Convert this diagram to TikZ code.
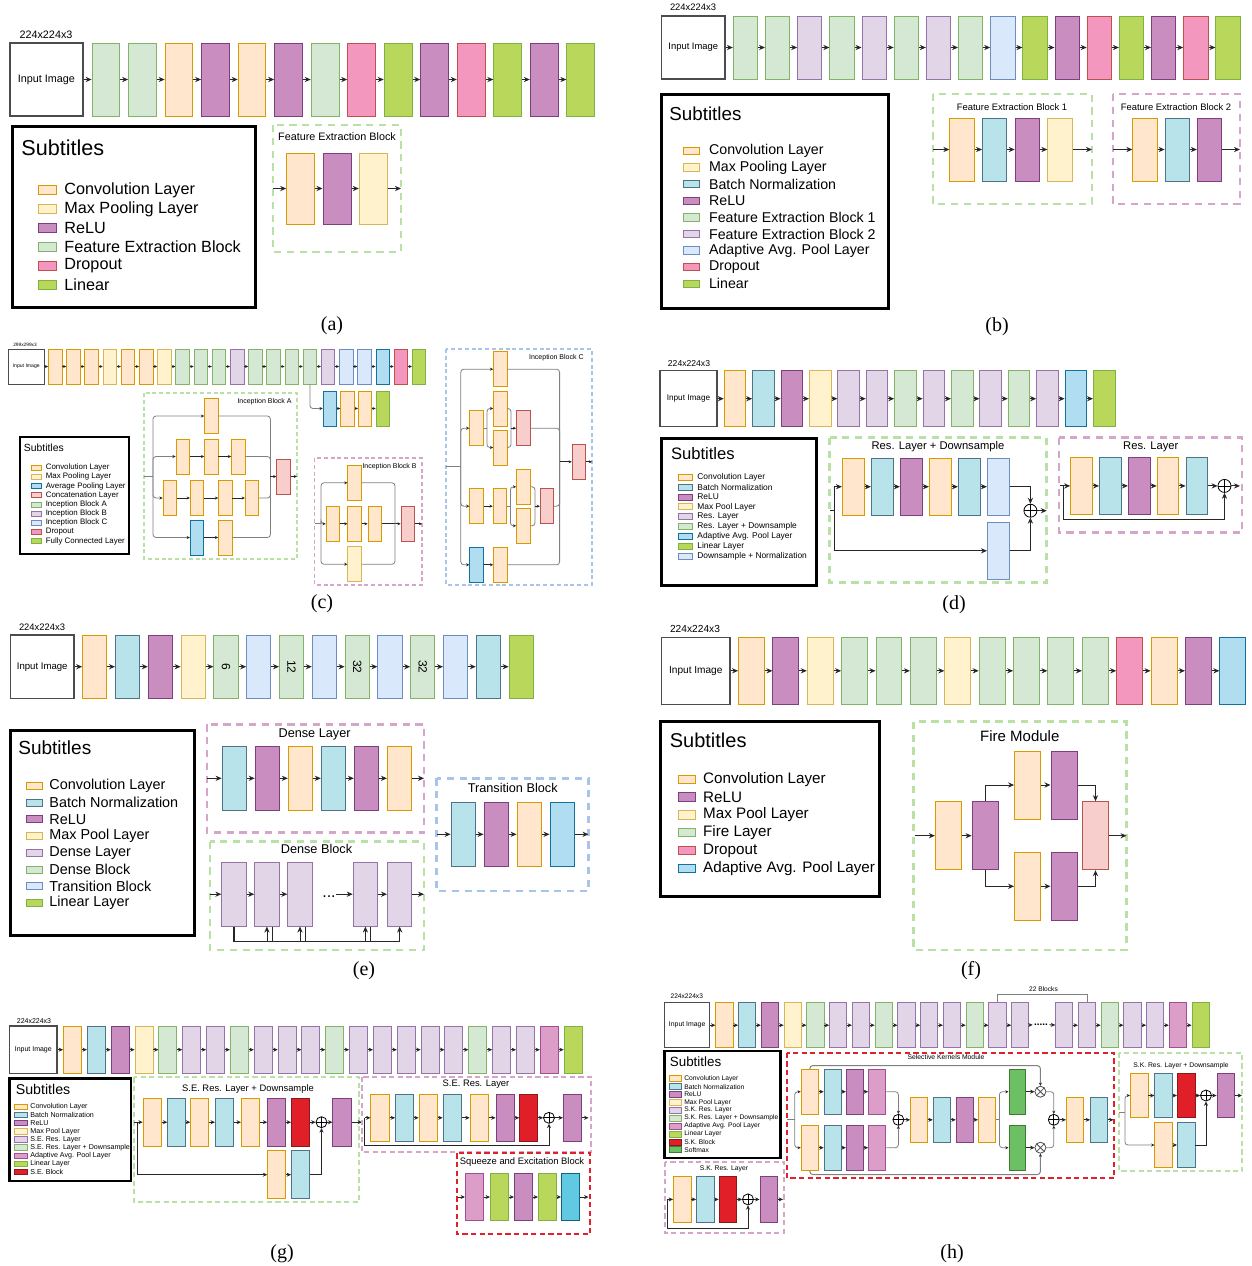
\documentclass[tikz,border=0pt]{standalone}
\usepackage{fontspec}
\setmainfont{Liberation Serif}
\newfontfamily\hel{Liberation Sans}
\usetikzlibrary{arrows.meta}
\newcommand{\fsz}[1]{\fontsize{#1}{#1}\selectfont}
% layer colours
\definecolor{cvF}{HTML}{FFE6CC}\definecolor{cvD}{HTML}{D79B00}
\definecolor{mpF}{HTML}{FFF2CC}\definecolor{mpD}{HTML}{D6B656}
\definecolor{rlF}{HTML}{C98DBF}\definecolor{rlD}{HTML}{7E3F7E}
\definecolor{feF}{HTML}{D5E8D4}\definecolor{feD}{HTML}{82B366}
\definecolor{fbF}{HTML}{E1D5E7}\definecolor{fbD}{HTML}{9673A6}
\definecolor{dpF}{HTML}{F497BE}\definecolor{dpD}{HTML}{C0504D}
\definecolor{liF}{HTML}{B9D75B}\definecolor{liD}{HTML}{7CB342}
\definecolor{bnF}{HTML}{B9E3EB}\definecolor{bnD}{HTML}{4E7487}
\definecolor{abF}{HTML}{DAE8FC}\definecolor{abD}{HTML}{6C8EBF}
\definecolor{avF}{HTML}{B1DDF0}\definecolor{avD}{HTML}{10739E}
\definecolor{caF}{HTML}{F8CECC}\definecolor{caD}{HTML}{B85450}
\definecolor{seF}{HTML}{E11F28}\definecolor{seD}{HTML}{8A1A1A}
\definecolor{apF}{HTML}{DC9EC8}\definecolor{apD}{HTML}{A05090}
\definecolor{smF}{HTML}{6CBF63}\definecolor{smD}{HTML}{3C7A36}
\definecolor{cyF}{HTML}{62C9E2}\definecolor{cyD}{HTML}{10627E}
\definecolor{dG}{HTML}{B9E0A5}\definecolor{dP}{HTML}{D5A6C9}
\definecolor{dB}{HTML}{A9C4EB}\definecolor{dR}{HTML}{E0202A}
\tikzstyle{blk}=[rectangle,draw,inner sep=0pt,line width=0.5pt]
\tikzstyle{cv}=[blk,fill=cvF,draw=cvD]
\tikzstyle{mp}=[blk,fill=mpF,draw=mpD]
\tikzstyle{rl}=[blk,fill=rlF,draw=rlD]
\tikzstyle{fe}=[blk,fill=feF,draw=feD]
\tikzstyle{fb}=[blk,fill=fbF,draw=fbD]
\tikzstyle{dp}=[blk,fill=dpF,draw=dpD]
\tikzstyle{li}=[blk,fill=liF,draw=liD]
\tikzstyle{bn}=[blk,fill=bnF,draw=bnD]
\tikzstyle{ab}=[blk,fill=abF,draw=abD]
\tikzstyle{av}=[blk,fill=avF,draw=avD]
\tikzstyle{ca}=[blk,fill=caF,draw=caD]
\tikzstyle{se}=[blk,fill=seF,draw=seD]
\tikzstyle{ap}=[blk,fill=apF,draw=apD]
\tikzstyle{sm}=[blk,fill=smF,draw=smD]
\tikzstyle{cy}=[blk,fill=cyF,draw=cyD]
\tikzstyle{inp}=[rectangle,draw=black!70,line width=0.6pt,fill=white,inner sep=0pt]
\tikzstyle{lbl}=[inner sep=0pt]
\tikzstyle{lgd}=[draw=black,line width=1.5pt]
\tikzstyle{gbox}=[draw=dG,line width=1.4pt,dash pattern=on 3.6pt off 2.8pt]
\tikzstyle{pbox}=[draw=dP,line width=1.4pt,dash pattern=on 3.6pt off 2.8pt]
\tikzstyle{bbox}=[draw=dB,line width=1.4pt,dash pattern=on 3.6pt off 2.8pt]
\tikzstyle{rbox}=[draw=dR,line width=1.4pt,dash pattern=on 3.6pt off 2.8pt]
\tikzstyle{thinbox}=[line width=0.7pt,dash pattern=on 2pt off 1.4pt]
\tikzstyle{midbox}=[line width=1pt,dash pattern=on 2.6pt off 1.7pt]
\tikzstyle{ar}=[draw=black!85,line width=0.5pt,-{Stealth[length=3pt,width=2.6pt]}]
\tikzstyle{arm}=[draw=black!85,line width=0.4pt,-{Stealth[length=2.2pt,width=2pt]}]
\tikzstyle{ars}=[draw=black!85,line width=0.35pt,-{Stealth[length=1.6pt,width=1.5pt]}]
\tikzstyle{gl}=[draw=black!50,line width=0.4pt,rounded corners=1.5pt]
\tikzstyle{arg}=[gl,-{Stealth[length=1.6pt,width=1.5pt,color=black!85]}]
\tikzstyle{opl}=[circle,draw=black,line width=0.4pt,fill=white,inner sep=0pt,
  path picture={\draw[line width=0.4pt] (path picture bounding box.north)--(path picture bounding box.south)
  (path picture bounding box.west)--(path picture bounding box.east);}]
\tikzstyle{otm}=[circle,draw=black!70,line width=0.4pt,fill=white,inner sep=0pt,
  path picture={\draw[line width=0.4pt] (path picture bounding box.north west)--(path picture bounding box.south east)
  (path picture bounding box.south west)--(path picture bounding box.north east);}]

\begin{document}
\begin{tikzpicture}[x=0.5pt,y=-0.5pt]
\fill[white] (0,0) rectangle (1252,1266);
\useasboundingbox (0,0) rectangle (1252,1266);

% ---------------- (a)
\node[lbl,font={\hel\fsz{5.4}}] (a-dim) at (46,35) {224x224x3};
\node[inp,minimum width=36.5pt,minimum height=36.5pt,font={\hel\fsz{5.4}}] (a0) at (46.5,79.5) {Input Image};
\foreach \c [count=\i] in {fe,fe,cv,rl,cv,rl,fe,dp,li,rl,dp,li,rl,li}
  \node[\c,minimum width=13.9pt,minimum height=36.5pt] (a\i) at ({106+36.52*(\i-1)},79.5) {};
\foreach \i [remember=\i as \j (initially 0)] in {1,...,14}
  \draw[ar] (a\j) -- (a\i);
\draw[lgd] (12,126) rectangle (255,307);
\node[lbl,anchor=west,font={\hel\fsz{10.8}}] (a-sub) at (21,148) {Subtitles};
\foreach \c/\t [count=\i] in {cv/Convolution Layer,mp/Max Pooling Layer,rl/ReLU,fe/Feature Extraction Block,dp/Dropout,li/Linear} {
  \node[\c,minimum width=9pt,minimum height=4.8pt] (a-s\i) at (47,{190+19*(\i-1)}) {};
  \node[lbl,anchor=west,font={\hel\fsz{8.1}}] (a-t\i) at (64,{190+19*(\i-1)}) {\t};
}
\draw[gbox] (273,125) rectangle (401,252);
\node[lbl,font={\hel\fsz{5.4}}] (a-fel) at (337,137) {Feature Extraction Block};
\foreach \c [count=\i] in {cv,rl,mp}
  \node[\c,minimum width=14pt,minimum height=35.5pt] (af\i) at ({300.7+36.3*(\i-1)},188.5) {};
\coordinate (af0) at (273,188.5); \coordinate (af4) at (401,188.5);
\foreach \i [remember=\i as \j (initially 0)] in {1,...,4} \draw[ar] (af\j) -- (af\i);
\node[font=\fsz{10}] (a-cap) at (332,326) {(a)};

% ---------------- (b)
\node[lbl,font={\hel\fsz{4.7}}] (b-dim) at (693,7) {224x224x3};
\node[inp,minimum width=31.7pt,minimum height=31.5pt,font={\hel\fsz{4.7}}] (b0) at (693.3,47.5) {Input Image};
\foreach \c [count=\i] in {fe,fe,fb,fe,fb,fe,fb,fe,ab,li,rl,dp,li,rl,dp,li}
  \node[\c,minimum width=12.15pt,minimum height=31.5pt] (b\i) at ({745.5+32.17*(\i-1)},47.5) {};
\foreach \i [remember=\i as \j (initially 0)] in {1,...,16}
  \draw[ar] (b\j) -- (b\i);
\draw[lgd] (661,94) rectangle (888,308);
\node[lbl,anchor=west,font={\hel\fsz{9.4}}] (b-sub) at (669,114) {Subtitles};
\foreach \c/\t [count=\i] in {cv/Convolution Layer,mp/Max Pooling Layer,bn/Batch Normalization,rl/ReLU,fe/Feature Extraction Block 1,fb/Feature Extraction Block 2,ab/Adaptive Avg. Pool Layer,dp/Dropout,li/Linear} {
  \node[\c,minimum width=8.2pt,minimum height=3.7pt] (b-s\i) at (691.5,{151+16.6*(\i-1)}) {};
  \node[lbl,anchor=west,font={\hel\fsz{7.1}}] (b-t\i) at (708.7,{151+16.6*(\i-1)}) {\t};
}
\draw[gbox] (933,94) rectangle (1092,204);
\node[lbl,font={\hel\fsz{4.7}}] (b-f1l) at (1012,107) {Feature Extraction Block 1};
\foreach \c [count=\i] in {cv,bn,rl,mp}
  \node[\c,minimum width=12.15pt,minimum height=31.5pt] (bf\i) at ({962+32.67*(\i-1)},149.5) {};
\coordinate (bf0) at (933,149.5); \coordinate (bf5) at (1092,149.5);
\foreach \i [remember=\i as \j (initially 0)] in {1,...,5} \draw[ar] (bf\j) -- (bf\i);
\draw[pbox] (1113,94) rectangle (1240,204);
\node[lbl,font={\hel\fsz{4.7}}] (b-f2l) at (1176,107) {Feature Extraction Block 2};
\foreach \c [count=\i] in {cv,bn,rl}
  \node[\c,minimum width=12.15pt,minimum height=31.5pt] (bg\i) at ({1145+32.25*(\i-1)},149.5) {};
\coordinate (bg0) at (1113,149.5); \coordinate (bg4) at (1240,149.5);
\foreach \i [remember=\i as \j (initially 0)] in {1,...,4} \draw[ar] (bg\j) -- (bg\i);
\node[font=\fsz{10}] (b-cap) at (997,327) {(b)};

% ---------------- (c)
\node[lbl,font={\hel\fsz{2.4}}] (c-dim) at (25,345) {299x299x3};
\node[inp,minimum width=17.75pt,minimum height=17.5pt,line width=0.4pt,font={\hel\fsz{2.55}}] (c0) at (26.25,366.5) {Input Image};
\foreach \c [count=\i] in {cv,cv,cv,mp,cv,cv,mp,fe,fe,fe,fb,fe,fe,fe,fe,fb,ab,ab,av,dp,li}
  \node[\c,minimum width=6.75pt,minimum height=17.5pt,line width=0.4pt] (c\i) at ({55.25+18.19*(\i-1)},366.5) {};
\foreach \i [remember=\i as \j (initially 0)] in {1,...,21}
  \draw[ars] (c\j) -- (c\i);
\foreach \c [count=\i] in {av,cv,cv,li}
  \node[\c,minimum width=6.75pt,minimum height=17.5pt,line width=0.4pt] (cx\i) at ({329.8+17.67*(\i-1)},408.5) {};
\draw[arg] (c15.south) |- (cx1);
\foreach \i [remember=\i as \j (initially 1)] in {2,3,4} \draw[ars] (cx\j) -- (cx\i);
\draw[lgd,line width=1pt] (20,437) rectangle (129,554);
\node[lbl,anchor=west,font={\hel\fsz{5.2}}] (c-sub) at (23.5,448) {Subtitles};
\foreach \c/\t [count=\i] in {cv/Convolution Layer,mp/Max Pooling Layer,av/Average Pooling Layer,ca/Concatenation Layer,fe/Inception Block A,fb/Inception Block B,ab/Inception Block C,dp/Dropout,li/Fully Connected Layer} {
  \node[\c,minimum width=4.75pt,minimum height=2.5pt,line width=0.3pt] (c-s\i) at (36.2,{467.7+9.17*(\i-1)}) {};
  \node[lbl,anchor=west,font={\hel\fsz{3.95}}] (c-t\i) at (45.4,{467.7+9.17*(\i-1)}) {\t};
}
% inception block A
\draw[gbox,thinbox] (144,393) rectangle (297,559);
\node[lbl,anchor=east,font={\hel\fsz{3.5}}] (ia-l) at (292,402) {Inception Block A};
\tikzstyle{zc}=[minimum width=6.75pt,minimum height=17.5pt,line width=0.4pt]
\node[cv,zc] (ia1) at (211.3,416) {};
\node[cv,zc] (ia21) at (182.8,456.5) {};
\node[cv,zc] (ia22) at (211.3,456.5) {};
\node[cv,zc] (ia23) at (238.3,456.5) {};
\node[cv,zc] (ia31) at (169.8,498) {};
\node[cv,zc] (ia32) at (197,498) {};
\node[cv,zc] (ia33) at (225.3,498) {};
\node[cv,zc] (ia34) at (252,498) {};
\node[av,zc] (ia41) at (197,537.5) {};
\node[cv,zc] (ia42) at (225.3,537.5) {};
\node[ca,zc] (iacat) at (283.5,476.5) {};
\coordinate (iain) at (144,476.5); \coordinate (iabr) at (153,476.5);
\coordinate (iamg) at (270.4,476.5); \coordinate (iaout) at (297,476.5);
\draw[gl] (iain) -- (iabr);
\foreach \n in {ia1,ia21,ia31,ia41} \draw[arg] (iabr) |- (\n);
\foreach \n in {ia1,ia23,ia34,ia42} \draw[gl] (\n) -| (iamg);
\draw[ars] (ia21) -- (ia22); \draw[ars] (ia22) -- (ia23);
\draw[ars] (ia31) -- (ia32); \draw[ars] (ia32) -- (ia33); \draw[ars] (ia33) -- (ia34);
\draw[ars] (ia41) -- (ia42);
\draw[ars] (iamg) -- (iacat); \draw[ars] (iacat) -- (iaout);
% inception block B
\draw[pbox,thinbox] (314.6,458) rectangle (422,585);
\node[lbl,anchor=east,font={\hel\fsz{3.5}}] (ib-l) at (417,467) {Inception Block B};
\node[cv,zc] (ib1) at (354.6,482.8) {};
\node[cv,zc] (ib21) at (332.8,523.8) {};
\node[cv,zc] (ib22) at (354.6,523.8) {};
\node[cv,zc] (ib23) at (374.8,523.8) {};
\node[mp,zc] (ib3) at (354.6,564.2) {};
\node[ca,zc] (ibcat) at (407.8,523.8) {};
\coordinate (ibin) at (314.6,523.8); \coordinate (ibbr) at (321,523.8);
\coordinate (ibmg) at (395,523.8); \coordinate (ibout) at (422,523.8);
\draw[gl] (ibin) -- (ibbr);
\foreach \n in {ib1,ib21,ib3} \draw[arg] (ibbr) |- (\n);
\draw[ars] (ib21) -- (ib22); \draw[ars] (ib22) -- (ib23); \draw[ars] (ib23) -- (ibcat);
\foreach \n in {ib1,ib3} \draw[gl] (\n) -| (ibmg);
\draw[ars] (ibcat) -- (ibout);
% inception block C
\draw[bbox,thinbox] (446,349) rectangle (592,585);
\node[lbl,anchor=east,font={\hel\fsz{3.5}}] (ic-l) at (584,358) {Inception Block C};
\node[cv,zc] (ic1) at (500.3,369.2) {};
\node[cv,zc] (ic2a) at (476.5,428.2) {};
\node[cv,zc] (ic2b) at (500.3,408.5) {};
\node[cv,zc] (ic2c) at (500.3,447.5) {};
\node[ca,zc] (ic2d) at (523.3,428.2) {};
\node[cv,zc] (ic3a) at (476.5,506.2) {};
\node[cv,zc] (ic3b) at (499.8,506.2) {};
\node[cv,zc] (ic3c) at (523.3,486.8) {};
\node[cv,zc] (ic3d) at (523.3,525.8) {};
\node[ca,zc] (ic3e) at (547,506.2) {};
\node[av,zc] (ic4a) at (476.5,564.8) {};
\node[cv,zc] (ic4b) at (500.3,564.8) {};
\node[ca,zc] (iccat) at (578.9,461.8) {};
\coordinate (icin) at (446,466); \coordinate (icbr) at (460.8,466);
\coordinate (ic2br) at (487,428.2); \coordinate (ic2mg) at (511,428.2);
\coordinate (ic3br) at (510.4,506.2); \coordinate (ic3mg) at (535,506.2);
\coordinate (icmg) at (559.6,461.8); \coordinate (icout) at (592,461.8);
\draw[gl] (icin) -- (icbr);
\foreach \n in {ic1,ic2a,ic3a,ic4a} \draw[arg] (icbr) |- (\n);
\draw[gl] (ic2a) -- (ic2br);
\foreach \n in {ic2b,ic2c} {\draw[arg] (ic2br) |- (\n); \draw[gl] (\n) -| (ic2mg);}
\draw[ars] (ic2mg) -- (ic2d);
\draw[ars] (ic3a) -- (ic3b); \draw[gl] (ic3b) -- (ic3br);
\foreach \n in {ic3c,ic3d} {\draw[arg] (ic3br) |- (\n); \draw[gl] (\n) -| (ic3mg);}
\draw[ars] (ic3mg) -- (ic3e);
\draw[ars] (ic4a) -- (ic4b);
\foreach \n in {ic1,ic2d,ic3e,ic4b} \draw[gl] (\n) -| (icmg);
\draw[ars] (icmg) -- (iccat); \draw[ars] (iccat) -- (icout);
\node[font=\fsz{10}] (c-cap) at (322,604) {(c)};

% ---------------- (d)
\node[lbl,font={\hel\fsz{4.3}}] (d-dim) at (689,364) {224x224x3};
\node[inp,minimum width=28.5pt,minimum height=28pt,font={\hel\fsz{4.1}}] (d0) at (688.5,398.7) {Input Image};
\foreach \c [count=\i] in {cv,bn,rl,mp,fb,fb,fe,fb,fe,fb,fe,fb,av,li}
  \node[\c,minimum width=10.8pt,minimum height=28pt] (d\i) at ({735.1+28.4*(\i-1)},398.7) {};
\foreach \i [remember=\i as \j (initially 0)] in {1,...,14}
  \draw[ar] (d\j) -- (d\i);
\draw[lgd] (661.6,438) rectangle (816.5,585);
\node[lbl,anchor=west,font={\hel\fsz{8.3}}] (d-sub) at (670.6,454) {Subtitles};
\foreach \c/\t [count=\i] in {cv/Convolution Layer,bn/Batch Normalization,rl/ReLU,mp/Max Pool Layer,fb/Res. Layer,fe/Res. Layer + Downsample,av/Adaptive Avg. Pool Layer,li/Linear Layer,ab/Downsample + Normalization} {
  \node[\c,minimum width=7pt,minimum height=3pt,line width=0.4pt] (d-s\i) at (685,{477.3+9.84*(\i-1)}) {};
  \node[lbl,anchor=west,font={\hel\fsz{4.2}}] (d-t\i) at (697,{477.3+9.84*(\i-1)}) {\t};
}
\draw[gbox] (829.5,437.7) rectangle (1046.8,582.3);
\node[lbl,font={\hel\fsz{5.6}}] (dr-l) at (938,446.7) {Res. Layer + Downsample};
\foreach \c [count=\i] in {cv,bn,rl,cv,bn,ab}
  \node[\c,minimum width=10.8pt,minimum height=28.35pt] (dr\i) at ({853.2+29*(\i-1)},486.7) {};
\node[ab,minimum width=10.8pt,minimum height=28.2pt] (drb) at (998.3,550.8) {};
\node[opl,minimum size=6.5pt] (drp) at (1030.4,510.7) {};
\coordinate (drin) at (830,510.7); \coordinate (drbr) at (834,510.7); \coordinate (drout) at (1046.8,510.7);
\draw[ar,-] (drin) -- (drbr);
\draw[ar] (drbr) |- (dr1); \draw[ar] (drbr) |- (drb);
\foreach \i [remember=\i as \j (initially 1)] in {2,...,6} \draw[ar] (dr\j) -- (dr\i);
\draw[ar] (dr6) -| (drp); \draw[ar] (drb) -| (drp); \draw[ar] (drp) -- (drout);
\draw[pbox] (1059,437.7) rectangle (1242,532.7);
\node[lbl,font={\hel\fsz{5.6}}] (rs-l) at (1150.8,446.7) {Res. Layer};
\foreach \c [count=\i] in {cv,bn,rl,cv,bn}
  \node[\c,minimum width=10.8pt,minimum height=28.15pt] (rs\i) at ({1081.5+28.85*(\i-1)},485.9) {};
\node[opl,minimum size=6.5pt] (rsp) at (1224.5,485.9) {};
\coordinate (rsin) at (1059.8,485.9); \coordinate (rsbr) at (1063.7,485.9);
\coordinate (rsbot) at (1063.7,519.3); \coordinate (rsout) at (1240,485.9);
\draw[ar] (rsin) -- (rs1);
\draw[ar] (rsbr) -- (rsbot) -| (rsp);
\foreach \i [remember=\i as \j (initially 1)] in {2,...,5} \draw[ar] (rs\j) -- (rs\i);
\draw[ar] (rs5) -- (rsp); \draw[ar] (rsp) -- (rsout);
\node[font=\fsz{10}] (d-cap) at (954,605) {(d)};

% ---------------- (e)
\node[lbl,font={\hel\fsz{4.7}}] (e-dim) at (42,627) {224x224x3};
\node[inp,minimum width=31.8pt,minimum height=31.7pt,font={\hel\fsz{4.8}}] (e0) at (42.2,666.7) {Input Image};
\foreach \c [count=\i] in {cv,bn,rl,mp,fe,ab,fe,ab,fe,ab,fe,ab,bn,li}
  \node[\c,minimum width=12.1pt,minimum height=31.7pt] (e\i) at ({94.8+32.8*(\i-1)},666.7) {};
\foreach \i/\t in {5/6,7/12,9/32,11/32}
  \node[lbl,rotate=-90,font={\hel\fsz{6}}] (en\i) at (e\i) {\t};
\foreach \i [remember=\i as \j (initially 0)] in {1,...,14}
  \draw[ar] (e\j) -- (e\i);
\draw[lgd] (10.4,730) rectangle (194.6,935);
\node[lbl,anchor=west,font={\hel\fsz{9.5}}] (e-sub) at (18,747.7) {Subtitles};
\foreach \c/\t [count=\i] in {cv/Convolution Layer,bn/Batch Normalization,rl/ReLU,mp/Max Pool Layer,fb/Dense Layer,fe/Dense Block,ab/Transition Block,li/Linear Layer} {
  \node[\c,minimum width=8pt,minimum height=3.5pt] (e-s\i) at (34,{786+16.7*(\i-1)}) {};
  \node[lbl,anchor=west,font={\hel\fsz{7.2}}] (e-t\i) at (49,{786+16.7*(\i-1)}) {\t};
}
\draw[pbox] (207,724.3) rectangle (424,832.7);
\node[lbl,font={\hel\fsz{6.35}}] (el-l) at (314.6,734) {Dense Layer};
\foreach \c [count=\i] in {bn,rl,cv,bn,rl,cv}
  \node[\c,minimum width=12.25pt,minimum height=31.7pt] (el\i) at ({234.4+33.06*(\i-1)},778.3) {};
\coordinate (el0) at (207,778.3); \coordinate (el7) at (424,778.3);
\foreach \i [remember=\i as \j (initially 0)] in {1,...,7} \draw[ar] (el\j) -- (el\i);
\draw[gbox] (210,841.7) rectangle (424,950);
\node[lbl,font={\hel\fsz{6.35}}] (ek-l) at (316.5,849.3) {Dense Block};
\foreach \x [count=\i] in {234,266.9,300,365.4,399.7}
  \node[fb,minimum width=12.15pt,minimum height=31.85pt] (ek\i) at (\x,894.2) {};
\coordinate (ek0) at (210,894.2); \coordinate (ek6) at (424,894.2);
\node[lbl,font={\hel\fsz{8}}] (ekd) at (329,897) {...};
\draw[ar] (ek0) -- (ek1); \draw[ar] (ek1) -- (ek2); \draw[ar] (ek2) -- (ek3);
\draw[ar] (ekd.east|-ek4) -- (ek4); \draw[ar] (ek4) -- (ek5); \draw[ar] (ek5) -- (ek6);
\coordinate (ekb) at (233,941.7);
\draw[line width=0.75pt,draw=black!85] (ek1.south) -- (ek1.south|-ekb) -- (ek5.south|-ekb);
\draw[ar,line width=0.75pt] (ek5.south|-ekb) -- (ek5.south);
\foreach \k in {2,3,4} {
  \draw[ar,line width=0.4pt] (ek\k.south|-ekb) -- (ek\k.south);
  \draw[line width=0.4pt,draw=black!85] ([xshift=2.7pt]ek\k.south) -- ++(0,15.65);
}
\draw[bbox] (436.5,778.3) rectangle (588.5,891);
\node[lbl,font={\hel\fsz{6.35}}] (et-l) at (512.7,788) {Transition Block};
\foreach \c [count=\i] in {bn,rl,cv,av}
  \node[\c,minimum width=12.3pt,minimum height=31.7pt] (et\i) at ({463.4+32.97*(\i-1)},834.3) {};
\coordinate (et0) at (436.5,834.3); \coordinate (et5) at (588.5,834.3);
\foreach \i [remember=\i as \j (initially 0)] in {1,...,5} \draw[ar] (et\j) -- (et\i);
\node[font=\fsz{10}] (e-cap) at (364,971) {(e)};

% ---------------- (f)
\node[lbl,font={\hel\fsz{5.1}}] (f-dim) at (695,629) {224x224x3};
\node[inp,minimum width=34.2pt,minimum height=33.5pt,font={\hel\fsz{5.05}}] (f0) at (695.8,670.8) {Input Image};
\foreach \c [count=\i] in {cv,rl,mp,fe,fe,fe,mp,fe,fe,fe,fe,dp,cv,rl,av}
  \node[\c,minimum width=12.95pt,minimum height=33.5pt] (f\i) at ({751.5+34.38*(\i-1)},670.8) {};
\foreach \i [remember=\i as \j (initially 0)] in {1,...,15}
  \draw[ar] (f\j) -- (f\i);
\draw[lgd] (660.4,721) rectangle (879,896.7);
\node[lbl,anchor=west,font={\hel\fsz{10}}] (f-sub) at (669.4,740) {Subtitles};
\foreach \c/\t [count=\i] in {cv/Convolution Layer,rl/ReLU,mp/Max Pool Layer,fe/Fire Layer,dp/Dropout,av/Adaptive Avg. Pool Layer} {
  \node[\c,minimum width=8.65pt,minimum height=4.2pt] (f-s\i) at (687,{779.3+17.8*(\i-1)}) {};
  \node[lbl,anchor=west,font={\hel\fsz{7.6}}] (f-t\i) at (702.8,{779.3+17.8*(\i-1)}) {\t};
}
\draw[gbox] (913.4,721.7) rectangle (1126.5,950);
\node[lbl,font={\hel\fsz{7.5}}] (fm-l) at (1019.8,735.7) {Fire Module};
\tikzstyle{zf}=[minimum width=13pt,minimum height=34pt]
\node[cv,zf] (fm1) at (948.4,835.7) {};
\node[rl,zf] (fm2) at (985.1,835.7) {};
\node[cv,zf] (fm3) at (1027.6,785) {};
\node[rl,zf] (fm4) at (1064,785) {};
\node[cv,zf] (fm5) at (1027.6,886.3) {};
\node[rl,zf] (fm6) at (1064,886.3) {};
\node[ca,zf] (fm7) at (1095.5,835.7) {};
\coordinate (fmin) at (914.6,835.7); \coordinate (fmout) at (1126.5,835.7);
\draw[ar] (fmin) -- (fm1); \draw[ar] (fm1) -- (fm2);
\draw[ar] (fm2) |- (fm3); \draw[ar] (fm3) -- (fm4); \draw[ar] (fm4) -| (fm7);
\draw[ar] (fm2) |- (fm5); \draw[ar] (fm5) -- (fm6); \draw[ar] (fm6) -| (fm7);
\draw[ar] (fm7) -- (fmout);
\node[font=\fsz{10}] (f-cap) at (971,971) {(f)};

% ---------------- (g)
\node[lbl,font={\hel\fsz{3.5}}] (g-dim) at (34,1020.7) {224x224x3};
\node[inp,minimum width=23.7pt,minimum height=23.65pt,font={\hel\fsz{3.5}}] (g0) at (33.3,1049.7) {Input Image};
\foreach \c [count=\i] in {cv,bn,rl,mp,fe,fb,fb,fe,fb,fb,fb,fe,fb,fb,fb,fb,fb,fe,fb,fb,ap,li}
  \node[\c,minimum width=9pt,minimum height=23.65pt,line width=0.45pt] (g\i) at ({72.5+23.84*(\i-1)},1049.7) {};
\foreach \i [remember=\i as \j (initially 0)] in {1,...,22}
  \draw[arm] (g\j) -- (g\i);
\draw[lgd,line width=1.2pt] (9.6,1078.3) rectangle (130.8,1180.7);
\node[lbl,anchor=west,font={\hel\fsz{7.1}}] (g-sub) at (15.4,1089) {Subtitles};
\foreach \c/\t [count=\i] in {cv/Convolution Layer,bn/Batch Normalization,rl/ReLU,mp/Max Pool Layer,fb/S.E. Res. Layer,fe/S.E. Res. Layer + Downsample,ap/Adaptive Avg. Pool Layer,li/Linear Layer,se/S.E. Block} {
  \node[\c,minimum width=6.35pt,minimum height=2.8pt,line width=0.35pt] (g-s\i) at (20.6,{1106.7+8.16*(\i-1)}) {};
  \node[lbl,anchor=west,font={\hel\fsz{3.55}}] (g-t\i) at (30,{1106.7+8.16*(\i-1)}) {\t};
}
\tikzstyle{zg}=[minimum width=9.1pt,minimum height=23.85pt,line width=0.45pt]
\draw[gbox,midbox] (133.8,1077.3) rectangle (358.8,1202.3);
\node[lbl,font={\hel\fsz{4.7}}] (gd-l) at (248,1089) {S.E. Res. Layer + Downsample};
\foreach \c/\x [count=\i] in {cv/152.3,bn/176.8,cv/199.8,bn/224.5,cv/250.6,rl/276.8,se/300.6,rl/342}
  \node[\c,zg] (gd\i) at (\x,1122.2) {};
\node[opl,minimum size=5.5pt] (gdp) at (321.5,1122.2) {};
\node[cv,zg] (gdb1) at (276.8,1174.7) {};
\node[bn,zg] (gdb2) at (300.6,1174.7) {};
\coordinate (gdin) at (134,1122.2); \coordinate (gdbr) at (137,1122.2); \coordinate (gdout) at (362,1122.2);
\draw[arm] (gdin) -- (gd1);
\foreach \i [remember=\i as \j (initially 1)] in {2,...,7} \draw[arm] (gd\j) -- (gd\i);
\draw[arm] (gd7) -- (gdp); \draw[arm] (gdp) -- (gd8); \draw[arm] (gd8) -- (gdout);
\draw[arm] (gdbr) |- (gdb1); \draw[arm] (gdb1) -- (gdb2); \draw[arm] (gdb2) -| (gdp);
\draw[pbox,midbox] (361.5,1076.7) rectangle (591,1151.7);
\node[lbl,font={\hel\fsz{4.7}}] (gs-l) at (476,1084) {S.E. Res. Layer};
\foreach \c/\x [count=\i] in {cv/380,bn/404.6,cv/428.2,bn/452.2,cv/479.2,rl/505.1,se/528.8,rl/572.5}
  \node[\c,zg] (gs\i) at (\x,1117.8) {};
\node[opl,minimum size=5.5pt] (gsp) at (549,1117.8) {};
\coordinate (gsin) at (364.6,1117.8); \coordinate (gsbot) at (364.6,1145); \coordinate (gsout) at (588.5,1117.8);
\draw[arm] (gsin) -- (gs1);
\foreach \i [remember=\i as \j (initially 1)] in {2,...,7} \draw[arm] (gs\j) -- (gs\i);
\draw[arm] (gs7) -- (gsp); \draw[arm] (gsp) -- (gs8); \draw[arm] (gs8) -- (gsout);
\draw[arm] (gsin) -- (gsbot) -| (gsp);
\draw[rbox,midbox] (457,1153.3) rectangle (590.4,1234);
\node[lbl,font={\hel\fsz{4.7}}] (gq-l) at (522,1161.7) {Squeeze and Excitation Block};
\foreach \c/\x [count=\i] in {ap/474.5,li/499.5,rl/523.5,li/547.5,cy/570.6}
  \node[\c,minimum width=9.1pt,minimum height=23.7pt,line width=0.45pt] (gq\i) at (\x,1197) {};
\coordinate (gq0) at (457.7,1197); \coordinate (gq6) at (588.5,1197);
\foreach \i [remember=\i as \j (initially 0)] in {1,...,6} \draw[arm] (gq\j) -- (gq\i);
\node[font=\fsz{10}] (g-cap) at (282,1254) {(g)};

% ---------------- (h)
\node[lbl,font={\hel\fsz{3.3}}] (h-dim) at (686.8,996.7) {224x224x3};
\node[inp,minimum width=22.55pt,minimum height=22.5pt,font={\hel\fsz{3.45}}] (h0) at (687.2,1025.2) {Input Image};
\tikzstyle{zh}=[minimum width=8.6pt,minimum height=22.5pt,line width=0.45pt]
\foreach \c [count=\i] in {cv,bn,rl,mp,fe,fb,fb,fe,fb,fb,fb,fe,fb,fb}
  \node[\c,zh] (h\i) at ({724.4+22.76*(\i-1)},1025.2) {};
\foreach \c [count=\i from 15] in {fb,fb,fe,fb,fb,ap,li}
  \node[\c,zh] (h\i) at ({1064.3+22.72*(\i-15)},1025.2) {};
\foreach \i [remember=\i as \j (initially 0)] in {1,...,14} \draw[arm] (h\j) -- (h\i);
\node[inner sep=0.5pt,font={\hel\bfseries\fsz{5}}] (hd) at (1041,1024.6) {.....};
\draw[arm] (h14) -- (hd); \draw[arm] (hd) -- (h15);
\foreach \i [remember=\i as \j (initially 15)] in {16,...,21} \draw[arm] (h\j) -- (h\i);
\draw[gl,rounded corners=0pt,line width=0.5pt] (h13.north) -- ++(0,-7.7) -| (h16.north);
\node[lbl,font={\hel\fsz{3.3}}] (h-blk) at (1043.5,989.3) {22 Blocks};
\draw[lgd,line width=1.2pt] (664.6,1051) rectangle (780.5,1157.7);
\node[lbl,anchor=west,font={\hel\fsz{6.7}}] (h-sub) at (669.5,1061.7) {Subtitles};
\foreach \c/\t [count=\i] in {cv/Convolution Layer,bn/Batch Normalization,rl/ReLU,mp/Max Pool Layer,fb/S.K. Res. Layer,fe/S.K. Res. Layer + Downsample,ap/Adaptive Avg. Pool Layer,li/Linear Layer,se/S.K. Block,sm/Softmax} {
  \node[\c,minimum width=6pt,minimum height=3pt,line width=0.35pt] (h-s\i) at (675,{1078.7+7.9*(\i-1)}) {};
  \node[lbl,anchor=west,font={\hel\fsz{3.35}}] (h-t\i) at (684,{1078.7+7.9*(\i-1)}) {\t};
}
% S.K. res layer
\draw[pbox,midbox] (664.6,1161.7) rectangle (784,1232.7);
\node[lbl,font={\hel\fsz{3.4}}] (hr-l) at (724,1169.3) {S.K. Res. Layer};
\foreach \c/\x [count=\i] in {cv/682.2,bn/705.3,se/727.9,rl/768.8}
  \node[\c,minimum width=8.75pt,minimum height=22.65pt,line width=0.45pt] (hr\i) at (\x,1199.4) {};
\node[opl,minimum size=5.5pt] (hrp) at (748,1199.4) {};
\coordinate (hrin) at (667,1199.4); \coordinate (hrbot) at (667,1228.7); \coordinate (hrout) at (783,1199.4);
\draw[arm] (hrin) -- (hr1); \draw[arm] (hr1) -- (hr2); \draw[arm] (hr2) -- (hr3);
\draw[arm] (hr3) -- (hrp); \draw[arm] (hrp) -- (hr4); \draw[arm] (hr4) -- (hrout);
\draw[arm] (hrin) -- (hrbot) -| (hrp);
% selective kernels module
\draw[rbox,midbox] (787,1052.7) rectangle (1114.2,1178.3);
\node[lbl,font={\hel\fsz{3.4}}] (hk-l) at (946,1057.3) {Selective Kernels Module};
\tikzstyle{zk}=[minimum width=8.6pt,minimum height=22.35pt,line width=0.45pt]
\foreach \c/\x [count=\i] in {cv/809.8,bn/832.8,rl/855,ap/877.2} {
  \node[\c,zk] (hu\i) at (\x,1091.7) {};
  \node[\c,zk] (hl\i) at (\x,1147.7) {};
}
\foreach \c/\x [count=\i] in {cv/919.2,bn/941.8,rl/964.8,cv/987}
  \node[\c,zk] (hm\i) at (\x,1119.8) {};
\node[sm,zk,minimum width=8.25pt] (hs1) at (1017.2,1091.7) {};
\node[sm,zk,minimum width=8.25pt] (hs2) at (1017.2,1147.7) {};
\node[otm,minimum size=5.5pt] (hx1) at (1040.4,1091.7) {};
\node[otm,minimum size=5.5pt] (hx2) at (1040.4,1147.7) {};
\node[opl,minimum size=5.5pt] (hp1) at (898.4,1119.8) {};
\node[opl,minimum size=5.5pt] (hp2) at (1053.8,1119.8) {};
\node[cv,zk] (ho1) at (1075,1119.8) {};
\node[bn,zk] (ho2) at (1099.1,1119.8) {};
\coordinate (hkin) at (787,1119.8); \coordinate (hkbr) at (794.7,1119.8);
\coordinate (hksp) at (999.4,1119.8); \coordinate (hkout) at (1113.5,1119.8);
\draw[gl] (hkin) -- (hkbr);
\draw[arg] (hkbr) |- (hu1); \draw[arg] (hkbr) |- (hl1);
\foreach \i [remember=\i as \j (initially 1)] in {2,3,4} {\draw[arm] (hu\j) -- (hu\i); \draw[arm] (hl\j) -- (hl\i);}
\draw[arg] (hu4) -| (hp1); \draw[arg] (hl4) -| (hp1);
\draw[arm] (hp1) -- (hm1);
\foreach \i [remember=\i as \j (initially 1)] in {2,3,4} \draw[arm] (hm\j) -- (hm\i);
\draw[gl] (hm4) -- (hksp);
\draw[arg] (hksp) |- (hs1); \draw[arg] (hksp) |- (hs2);
\draw[arm] (hs1) -- (hx1); \draw[arm] (hs2) -- (hx2);
\draw[arg,line width=0.5pt] (hu1.north) -- ++(0,-3.3) -| (hx1);
\draw[arg,line width=0.5pt] (hl1.south) -- ++(0,4) -| (hx2);
\draw[arg] (hx1) -| (hp2); \draw[arg] (hx2) -| (hp2);
\draw[arm] (hp2) -- (ho1); \draw[arm] (ho1) -- (ho2); \draw[arm] (ho2) -- (hkout);
% S.K. res layer + downsample
\draw[gbox,midbox] (1119.2,1052.7) rectangle (1242.4,1171);
\node[lbl,font={\hel\fsz{3.4}}] (hw-l) at (1181,1065.7) {S.K. Res. Layer + Downsample};
\foreach \c/\x [count=\i] in {cv/1139.2,bn/1163.6,se/1186.2,rl/1225.8}
  \node[\c,minimum width=8.75pt,minimum height=22.2pt,line width=0.45pt] (hw\i) at (\x,1095.5) {};
\node[opl,minimum size=5.5pt] (hwp) at (1206,1095.5) {};
\node[cv,minimum width=8.75pt,minimum height=22.3pt,line width=0.45pt] (hv1) at (1163.6,1145) {};
\node[bn,minimum width=8.75pt,minimum height=22.3pt,line width=0.45pt] (hv2) at (1186.2,1145) {};
\coordinate (hwin) at (1119.2,1112.3); \coordinate (hwbr) at (1125,1112.3); \coordinate (hwout) at (1242,1095.5);
\draw[gl] (hwin) -- (hwbr);
\draw[arg] (hwbr) |- (hw1); \draw[arg] (hwbr) |- (hv1);
\draw[arm] (hw1) -- (hw2); \draw[arm] (hw2) -- (hw3); \draw[arm] (hw3) -- (hwp);
\draw[arm] (hwp) -- (hw4); \draw[arm] (hw4) -- (hwout);
\draw[arm] (hv1) -- (hv2); \draw[arm] (hv2) -| (hwp);
\node[font=\fsz{10}] (h-cap) at (952,1254) {(h)};
\end{tikzpicture}
\end{document}
